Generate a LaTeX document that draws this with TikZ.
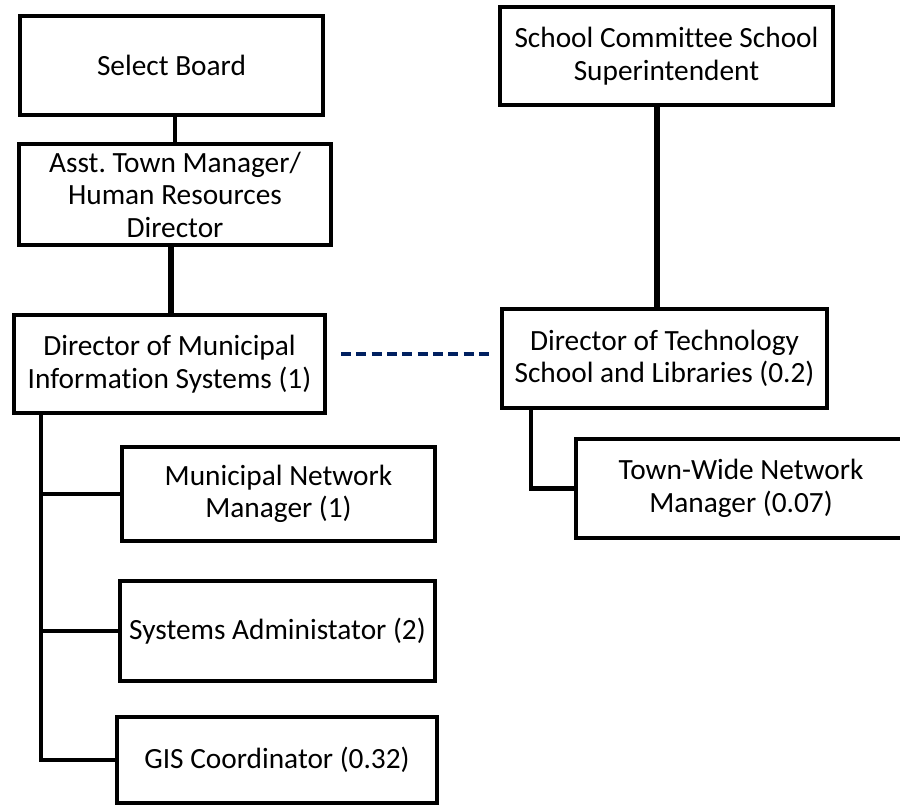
\documentclass[tikz,border=0pt]{standalone}
\usepackage{fontspec}
\setmainfont{Carlito}[Ligatures=NoCommon]
\usetikzlibrary{calc}
\definecolor{navy}{HTML}{002060}
\frenchspacing
\begin{document}
\begin{tikzpicture}[x=0.75pt,y=-0.75pt,
  box/.style={draw=black, line width=3pt, fill=white, align=center, inner sep=0pt,
    font=\fontsize{22}{24.4}\selectfont},
  sz/.style 2 args={minimum width=#1*0.75pt, minimum height=#2*0.75pt},
  conn/.style={draw=black, line width=3.5pt},
  vconn/.style={draw=black, line width=4.5pt},
  link/.style={draw=navy, line width=2.8pt, dash pattern=on 7.5pt off 4pt}]
\useasboundingbox (0,0) rectangle (900,808);
\clip (0,0) rectangle (900,808);
% left column
\node[box, sz={303}{99}] (sb) at (171.5,65.5) {Select Board};
\node[box, sz={312}{101}] (asst) at (175,194.5) {Asst. Town Manager/\\Human Resources\\Director};
\node[box, sz={311}{98}] (dm) at (169.5,364) {Director of Municipal\\Information Systems (1)};
\node[box, sz={313}{94}] (mnm) at (278.5,494) {Municipal Network\\Manager (1)};
\node[box, sz={315}{100}] (sa) at (277.5,631) {Systems Administator (2)};
\node[box, sz={320}{86}] (gis) at (277,760) {GIS Coordinator (0.32)};
% right column
\node[box, sz={333}{98}] (sc) at (666.5,56) {School Committee School\\Superintendent};
\node[box, sz={325}{99}] (dt) at (664.5,358.5) {Director of Technology\\School and Libraries (0.2)};
\node[box, sz={330}{99}] (tw) at (741,488.5) {Town-Wide Network\\Manager (0.07)};
% connectors
\draw[conn] (asst.north) -- (asst.north |- sb.south);
\draw[vconn] ($(dm.north)+(1.5,0)$) coordinate (c1) -- (c1 |- asst.south);
\draw[vconn] ($(dt.north)+(-7.5,0)$) coordinate (c2) -- (c2 |- sc.south);
\draw[link] ($(dm.east)+(14,-10)$) coordinate (d1) -- (d1 -| dt.west) [shorten >=6.75pt];
\draw[conn] ($(dm.south west)+(29,0)$) coordinate (t0) |- (gis.west);
\draw[conn] (t0 |- mnm.west) -- (mnm.west);
\draw[conn] (t0 |- sa.west) -- (sa.west);
\draw[conn] ($(dt.south west)+(31,0)$) coordinate (t1) |- (tw.west);
\end{tikzpicture}
\end{document}
